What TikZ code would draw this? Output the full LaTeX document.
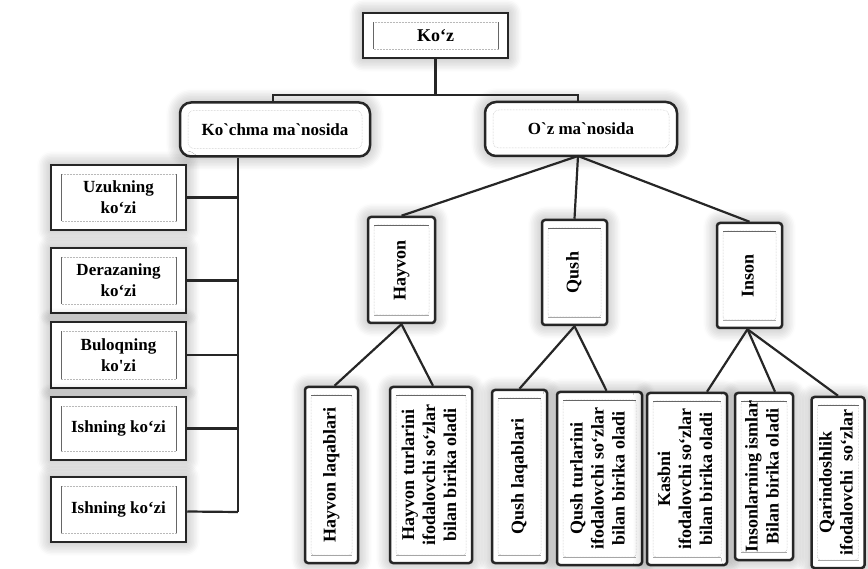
\documentclass[tikz,border=0pt]{standalone}
\usepackage{fontspec}
\setmainfont{Liberation Serif}
\usepackage{graphicx}
\usetikzlibrary{shadows.blur}

% rotated multi-line label for the upright boxes
\newcommand{\vlab}[1]{\rotatebox{90}{\begin{tabular}{@{}c@{}}#1\end{tabular}}}

\tikzset{
  conn/.style={draw=black!85, line width=2.2pt},
  halo/.style={blur shadow={shadow xshift=0pt, shadow yshift=0pt,
    shadow blur radius=14pt, shadow opacity=38, shadow blur steps=10}},
  boxbase/.style={draw=black!85, line width=2.5pt, fill=white, align=center,
    inner sep=0pt, halo, font=\bfseries\fontsize{17}{21}\selectfont},
  % square box with an inner text frame, darker on its left and right
  sqbox/.style={boxbase, path picture={
    \draw[gray!55, line width=0.5pt, densely dotted]
      ([shift={(10pt,9pt)}]path picture bounding box.south west) rectangle
      ([shift={(-10pt,-9pt)}]path picture bounding box.north east);
    \draw[black!60, line width=0.9pt]
      ([shift={(10pt,9pt)}]path picture bounding box.south west) --
      ([shift={(10pt,-9pt)}]path picture bounding box.north west)
      ([shift={(-10pt,9pt)}]path picture bounding box.south east) --
      ([shift={(-10pt,-9pt)}]path picture bounding box.north east);
  }},
  % rounded box with a soft dotted inner frame
  rbox/.style={boxbase, rounded corners=11pt, path picture={
    \draw[gray!55, line width=0.5pt, densely dotted, rounded corners=6pt]
      ([shift={(8pt,8pt)}]path picture bounding box.south west) rectangle
      ([shift={(-8pt,-8pt)}]path picture bounding box.north east);
  }},
  % upright box holding rotated text, inner frame darker at top and bottom
  vbox/.style={boxbase, rounded corners=3pt, font=\bfseries\fontsize{18}{21}\selectfont,
    path picture={
    \draw[gray!55, line width=0.5pt, densely dotted]
      ([shift={(6pt,8pt)}]path picture bounding box.south west) rectangle
      ([shift={(-6pt,-8pt)}]path picture bounding box.north east);
    \draw[black!60, line width=0.9pt]
      ([shift={(6pt,-8pt)}]path picture bounding box.north west) --
      ([shift={(-6pt,-8pt)}]path picture bounding box.north east);
    \draw[gray!70, line width=0.5pt]
      ([shift={(6pt,8pt)}]path picture bounding box.south west) --
      ([shift={(-6pt,8pt)}]path picture bounding box.south east);
  }},
}

\begin{document}
\begin{tikzpicture}[x=1pt, y=-1pt]
\useasboundingbox (0,0) rectangle (868,569);

% root and the two senses
\node[sqbox, minimum width=145pt, minimum height=45pt, font=\bfseries\fontsize{18}{21}\selectfont]
  (koz) at (435.5,35.5) {Ko‘z};
\node[rbox, minimum width=190pt, minimum height=54pt] (kochma) at (275,129.5)
  {Ko\textasciigrave chma ma\textasciigrave nosida};
\node[rbox, minimum width=192pt, minimum height=54pt] (ozm) at (581,129)
  {O\textasciigrave z ma\textasciigrave nosida};

% figurative meanings
\node[sqbox, minimum width=135pt, minimum height=65pt] (uzuk)   at (118.5,197.5) {Uzukning\\ko‘zi};
\node[sqbox, minimum width=135pt, minimum height=65pt] (deraza) at (118.5,280.5) {Derazaning\\ko‘zi};
\node[sqbox, minimum width=135pt, minimum height=66pt] (buloq)  at (118.5,355)   {Buloqning\\ko\textquotesingle zi};
\node[sqbox, minimum width=135pt, minimum height=63pt] (ishA)   at (118.5,428.5) {Ishning ko‘zi};
\node[sqbox, minimum width=135pt, minimum height=65pt] (ishB)   at (118.5,509.5) {Ishning ko‘zi};

% literal meanings
\node[vbox, minimum width=67pt, minimum height=106pt] (hayvon) at (401.5,270)   {\vlab{Hayvon}};
\node[vbox, minimum width=65pt, minimum height=105pt] (qush)   at (574.5,272.5) {\vlab{Qush}};
\node[vbox, minimum width=65pt, minimum height=105pt] (inson)  at (749.5,275.5) {\vlab{Inson}};

\node[vbox, minimum width=53pt, minimum height=176pt] (hlaq) at (331.5,475) {\vlab{Hayvon laqablari}};
\node[vbox, minimum width=82pt, minimum height=176pt] (htur) at (431,475)
  {\vlab{Hayvon turlarini\\ifodalovchi so‘zlar\\bilan birika oladi}};
\node[vbox, minimum width=55pt, minimum height=173pt] (qlaq) at (519.5,476.5) {\vlab{Qush laqablari}};
\node[vbox, minimum width=85pt, minimum height=173pt] (qtur) at (599.5,478.5)
  {\vlab{Qush turlarini\\ifodalovchi so‘zlar\\bilan birika oladi}};
\node[vbox, minimum width=80pt, minimum height=172pt] (kasb) at (687,479)
  {\vlab{Kasbni\\ifodalovchi so‘zlar\\bilan birika oladi}};
\node[vbox, minimum width=58pt, minimum height=167pt] (ism) at (764,476.5)
  {\vlab{Insonlarning ismlar\\Bilan birika oladi}};
\node[vbox, minimum width=53pt, minimum height=171pt] (qarin) at (838,482.5)
  {\vlab{Qarindoshlik\\ifodalovchi\ \ so‘zlar}};

% connectors
\coordinate (bar) at (437,95);
\draw[conn] (koz.south) |- (bar);
\draw[conn] (kochma.north -| 273,0) |- (bar) -| (ozm.north -| 578,0);

\coordinate (trunkend) at (238,512);
\draw[conn] (kochma.south -| 238,0) -- (trunkend);
\foreach \n in {uzuk,deraza,buloq,ishA}
  \draw[conn] (\n.east) -- (\n.east -| trunkend);
\draw[conn] ([yshift=-2pt]ishB.east) -- (trunkend);

\coordinate (ozfoot) at (578,156);
\draw[conn] (ozfoot) -- (hayvon.north);
\draw[conn] (ozfoot) -- (qush.north);
\draw[conn] (ozfoot) -- (inson.north);

\draw[conn] (hayvon.south) -- ([xshift=3pt]hlaq.north);
\draw[conn] (hayvon.south) -- ([xshift=2pt]htur.north);
\draw[conn] (qush.south) -- (qlaq.north);
\draw[conn] (qush.south) -- ([xshift=7pt]qtur.north);
\draw[conn] ([xshift=-2pt]inson.south) -- ([xshift=20pt]kasb.north);
\draw[conn] ([xshift=-2pt]inson.south) -- ([xshift=11pt]ism.north);
\draw[conn] ([xshift=-2pt]inson.south) -- (qarin.north);
\end{tikzpicture}
\end{document}
